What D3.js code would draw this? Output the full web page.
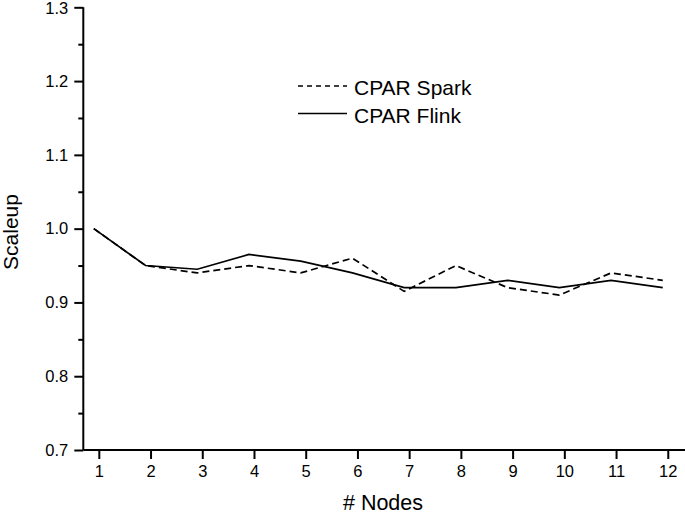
<!DOCTYPE html>
<html><head><meta charset="utf-8">
<script src="https://cdn.jsdelivr.net/npm/d3@7"></script>
<style>
html,body{margin:0;padding:0;background:#fff;}
svg{display:block;}
text{font-family:"Liberation Sans",Arial,sans-serif;fill:#000;}
</style></head>
<body>
<svg id="chart" width="685" height="515"></svg>
<script>
const nodes = [1,2,3,4,5,6,7,8,9,10,11,12];
const sparkValues = [1.0,0.95,0.94,0.95,0.94,0.96,0.915,0.95,0.92,0.91,0.94,0.93];
const flinkValues = [1.0,0.95,0.945,0.965,0.956,0.94,0.92,0.92,0.93,0.92,0.93,0.92];
const yMajorTicks = [0.7,0.8,0.9,1.0,1.1,1.2,1.3];
const yMinorTicks = [0.75,0.85,0.95,1.05,1.15,1.25];
const seriesNames = ["CPAR Spark","CPAR Flink"];

const svg = d3.select("#chart");
const pLeft = 83.3, pRight = 685, pTop = 7.3, pBottom = 450;
const x = d3.scaleLinear().domain([0.7, 12.333]).range([pLeft, pRight]);
const y = d3.scaleLinear().domain([0.7, 1.3]).range([pBottom, pTop]);
const dataShift = -5;

// lines
const line = d3.line().x((d,i)=>x(nodes[i]) + dataShift).y(d=>y(d));
svg.append("path").datum(sparkValues).attr("d", line)
  .attr("fill","none").attr("stroke","#000").attr("stroke-width",1.7)
  .attr("stroke-dasharray","7,4");
svg.append("path").datum(flinkValues).attr("d", line)
  .attr("fill","none").attr("stroke","#000").attr("stroke-width",1.7);

// y axis
const yAxis = svg.append("g").attr("transform",`translate(${pLeft},0)`)
  .call(d3.axisLeft(y).tickValues(yMajorTicks).tickFormat(d3.format(".1f")).tickSize(9).tickPadding(6));
const yMinor = svg.append("g").attr("transform",`translate(${pLeft},0)`)
  .call(d3.axisLeft(y).tickValues(yMinorTicks).tickFormat("").tickSize(5));
yMinor.select(".domain").remove();
// x axis
const xAxis = svg.append("g").attr("transform",`translate(0,${pBottom})`)
  .call(d3.axisBottom(x).tickValues(nodes).tickFormat(d3.format("d")).tickSize(9).tickPadding(6));

[yAxis,yMinor,xAxis].forEach(g=>{
  g.selectAll(".domain").attr("stroke","#000").attr("stroke-width",2);
  g.selectAll(".tick line").attr("stroke","#000").attr("stroke-width",2);
  g.selectAll(".tick text").style("font-size","16.5px").attr("fill","#000");
});
yAxis.select(".domain").attr("d",`M0,${pBottom}V${pTop}`);
xAxis.select(".domain").attr("d",`M${pLeft},0H${pRight}`);
// keep top label inside the picture
yAxis.selectAll(".tick text").filter(d=>d===1.3).attr("dy","0.36em");

// axis titles
svg.append("text").attr("x",383).attr("y",510).attr("text-anchor","middle")
  .style("font-size","21.5px").text("# Nodes");
svg.append("text").attr("transform","translate(18,232) rotate(-90)").attr("text-anchor","middle")
  .style("font-size","21px").text("Scaleup");

// legend
const legend = svg.append("g");
const legendY = [86, 113.5];
const legendDash = ["5,4", null];
seriesNames.forEach((name,i)=>{
  legend.append("line").attr("x1",298).attr("x2",347).attr("y1",legendY[i]).attr("y2",legendY[i])
    .attr("stroke","#000").attr("stroke-width",1.7).attr("stroke-dasharray",legendDash[i]);
  legend.append("text").attr("x",354).attr("y",legendY[i]+9).style("font-size","21px").text(name);
});
</script>
</body></html>
